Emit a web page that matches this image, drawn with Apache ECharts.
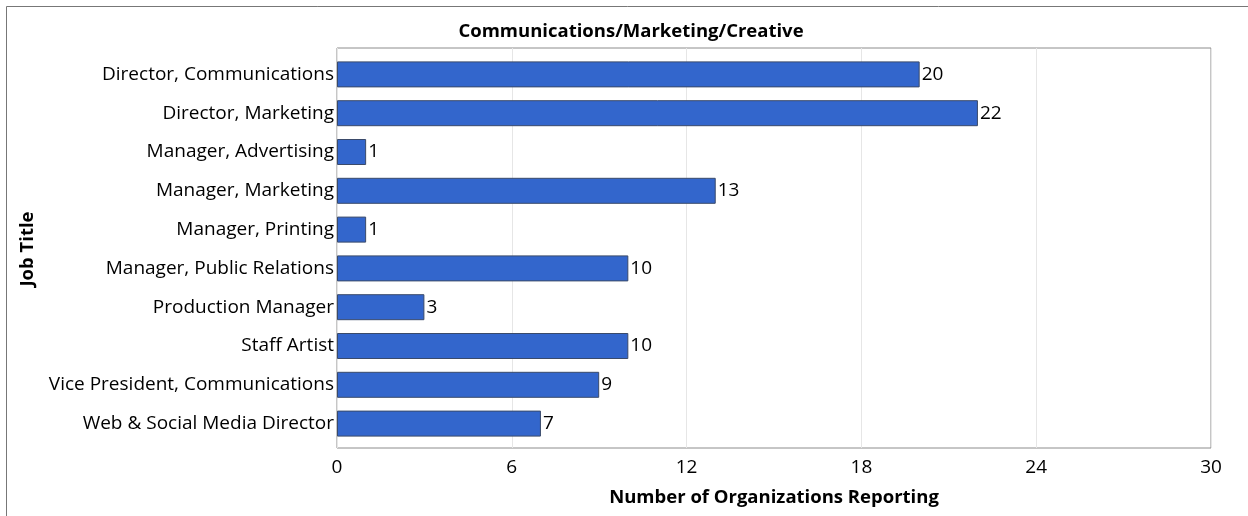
<!DOCTYPE html>
<html><head><meta charset="utf-8">
<script src="https://cdn.jsdelivr.net/npm/echarts@6/dist/echarts.min.js"></script>
<style>html,body{margin:0;padding:0;background:#fff}#c{width:1248px;height:516px}</style>
</head><body><div id="c"></div>
<script>
const categories = ["Director, Communications","Director, Marketing","Manager, Advertising","Manager, Marketing","Manager, Printing","Manager, Public Relations","Production Manager","Staff Artist","Vice President, Communications","Web & Social Media Director"];
const values = [20,22,1,13,1,10,3,10,9,7];
const xTicks = [0,6,12,18,24,30];
const titleText = "Communications/Marketing/Creative";
const xName = "Number of Organizations Reporting";
const yName = "Job Title";
const FONT = "Open Sans";
const chart = echarts.init(document.getElementById('c'));
chart.setOption({
  animation:false,
  textStyle:{fontFamily:FONT},
  graphic:[{type:'rect',shape:{x:6.5,y:6.5,width:1260,height:530},style:{fill:'none',stroke:'#777',lineWidth:1},silent:true}],
  title:{text:titleText,left:626,textAlign:'center',top:17,textStyle:{fontFamily:FONT,fontSize:18.5,fontWeight:'bold',color:'#000'}},
  grid:[
    {left:337,right:37,top:48,bottom:68,show:true,borderColor:'#8c8c8c',borderWidth:1,backgroundColor:'transparent'},
    {left:337,right:37,top:55,bottom:73}
  ],
  xAxis:[
    {gridIndex:0,type:'value',min:0,max:30,interval:6,
    name:xName,nameLocation:'middle',nameGap:40,nameTextStyle:{fontFamily:FONT,fontSize:18.5,fontWeight:'bold',color:'#000'},
    axisLine:{show:false},axisTick:{show:false},
    axisLabel:{fontSize:19,color:'#000',margin:10,formatter:v=>xTicks.includes(v)?String(v):''},
    splitLine:{show:true,lineStyle:{color:'#e6e6e6',width:1}}},
    {gridIndex:1,type:'value',min:0,max:30,interval:6,show:false,splitLine:{show:false}}
  ],
  yAxis:[
    {gridIndex:0,type:'value',show:false,splitLine:{show:false}},
    {gridIndex:1,type:'category',data:categories,inverse:true,
    name:yName,nameLocation:'middle',nameGap:300,nameRotate:90,nameTextStyle:{fontFamily:FONT,fontSize:18.5,fontWeight:'bold',color:'#000'},
    axisLine:{show:false},axisTick:{show:false},
    axisLabel:{fontSize:19,color:'#000',margin:3}}
  ],
  series:[{type:'bar',xAxisIndex:1,yAxisIndex:1,data:values,barWidth:26,
    itemStyle:{color:'#3366cc',borderColor:'#3a4a6a',borderWidth:1},
    label:{show:true,position:'right',distance:2,fontSize:19,color:'#000'}}]
});
</script></body></html>
